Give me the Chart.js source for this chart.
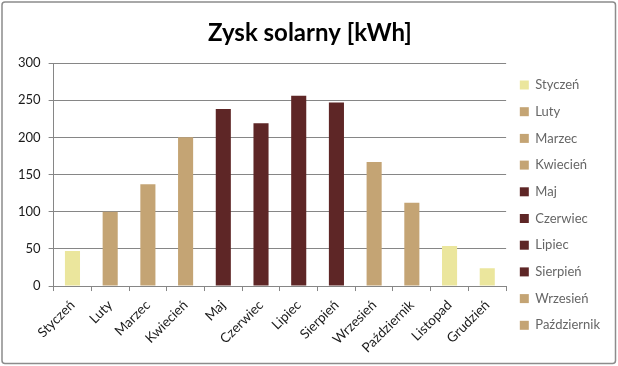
<!DOCTYPE html>
<html>
<head>
<meta charset="utf-8">
<script src="https://cdn.jsdelivr.net/npm/chart.js@4.4.1/dist/chart.umd.min.js"></script>
<style>
  html, body { margin: 0; padding: 0; background: #fff; }
  #wrap { width: 618px; height: 366px; }
</style>
</head>
<body>
<div id="wrap"><canvas id="chart" width="618" height="366"></canvas></div>
<script>
const months = ["Styczeń", "Luty", "Marzec", "Kwiecień", "Maj", "Czerwiec",
  "Lipiec", "Sierpień", "Wrzesień", "Październik", "Listopad", "Grudzień"];
const gain = [47, 100, 137, 200, 238, 219, 256, 247, 167, 112, 54, 24];
const yTicks = [0, 50, 100, 150, 200, 250, 300];

const winter = "#EBE69D";
const spring = "#C4A474";
const summer = "#5E2626";
const barColors = [winter, spring, spring, spring, summer, summer,
  summer, summer, spring, spring, winter, winter];

// ramka wokół wykresu
const frame = {
  id: "frame",
  beforeDraw(chart) {
    const c = chart.ctx;
    c.save();
    c.fillStyle = "#fff";
    c.fillRect(0, 0, chart.width, chart.height);
    c.strokeStyle = "#8c8c8c";
    c.lineWidth = 1.5;
    c.beginPath();
    c.roundRect(2, 2, chart.width - 4.5, chart.height - 4.5, 3);
    c.stroke();
    c.restore();
  }
};

new Chart(document.getElementById("chart").getContext("2d"), {
  type: "bar",
  data: {
    labels: months,
    datasets: [{
      label: "Zysk solarny",
      data: gain,
      backgroundColor: barColors,
      borderWidth: 0,
      categoryPercentage: 1,
      barPercentage: 0.4
    }]
  },
  options: {
    responsive: false,
    animation: false,
    layout: { padding: { left: 10, right: 8, top: 0, bottom: 4 } },
    plugins: {
      title: {
        display: true,
        text: "Zysk solarny [kWh]",
        color: "#000",
        font: { family: "Lato", size: 24, weight: "bold" },
        padding: { top: 18.6, bottom: 15.6 }
      },
      legend: {
        position: "right",
        align: "start",
        // pusty tytuł legendy tylko po to, by zepchnąć wpisy w dół
        title: {
          display: true,
          text: "",
          font: { family: "Lato", size: 12 },
          padding: { top: 0, bottom: 50.4 }
        },
        labels: {
          color: "#1a1a1a",
          font: { family: "Lato", size: 13 },
          boxWidth: 9,
          boxHeight: 9,
          padding: 13.7,
          generateLabels: () => months.slice(0, 10).map((m, i) => ({
            text: m,
            fillStyle: barColors[i],
            strokeStyle: barColors[i],
            lineWidth: 0,
            hidden: false,
            index: i,
            datasetIndex: 0
          }))
        },
        onClick: () => {}
      },
      tooltip: { enabled: false }
    },
    scales: {
      x: {
        grid: {
          offset: true,
          drawOnChartArea: false,
          drawTicks: true,
          tickLength: 5,
          color: "#868686"
        },
        border: { color: "#868686" },
        ticks: {
          color: "#1a1a1a",
          font: { family: "Lato", size: 13.5 },
          minRotation: 45,
          maxRotation: 45,
          padding: 6
        }
      },
      y: {
        min: 0,
        max: 300,
        afterBuildTicks: (axis) => { axis.ticks = yTicks.map(v => ({ value: v })); },
        grid: { color: "#868686", tickLength: 5 },
        border: { color: "#868686" },
        ticks: {
          color: "#1a1a1a",
          font: { family: "Lato", size: 13 },
          padding: 8
        }
      }
    }
  },
  plugins: [frame]
});
</script>
</body>
</html>
